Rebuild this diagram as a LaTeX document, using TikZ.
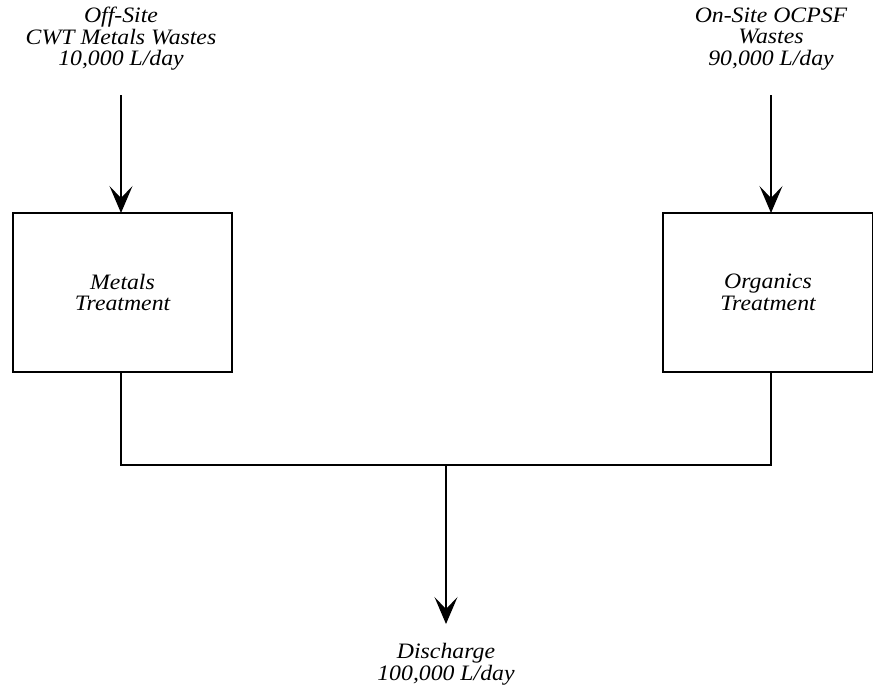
\documentclass[tikz,border=0pt]{standalone}
\usepackage{fontspec}
\setmainfont{Liberation Serif}[FakeStretch=1.08]
\usetikzlibrary{arrows.meta}
\begin{document}
\begin{tikzpicture}[x=1pt,y=-1pt,
  lbl/.style={align=center,font=\fontsize{22}{21.5}\selectfont\itshape,inner sep=0pt},
  tbox/.style={draw,line width=1.2pt,minimum width=219pt,minimum height=159pt,font=\fontsize{22}{21.5}\selectfont\itshape,align=center,inner sep=0pt},
  flow/.style={line width=1.2pt,-{Stealth[length=27pt,width=23pt,inset=12pt]}},
  wire/.style={line width=1.2pt}]
\useasboundingbox (0,0) rectangle (873,689);
\node[lbl] (src1) at (121,39) {Off-Site\\CWT Metals Wastes\\10,000 L/day};
\node[lbl] (src2) at (771,39) {On-Site OCPSF\\Wastes\\90,000 L/day};
\node[tbox] (mt) at (122.5,292.5) {Metals\\Treatment};
\node[tbox,minimum width=210pt] (ot) at (768,292.5) {Organics\\Treatment};
\node[lbl] (dis) at (446,664) {Discharge\\100,000 L/day};
\coordinate (a1) at (121,95);
\coordinate (a2) at (771,95);
\coordinate (j) at (446,465);
\coordinate (e) at (446,624);
\draw[flow] (a1) -- (121,213);
\draw[flow] (a2) -- (771,213);
\draw[wire] (121,372) -- (121,465) -- (771,465) -- (771,372);
\draw[flow] (j) -- (e);
\end{tikzpicture}
\end{document}
